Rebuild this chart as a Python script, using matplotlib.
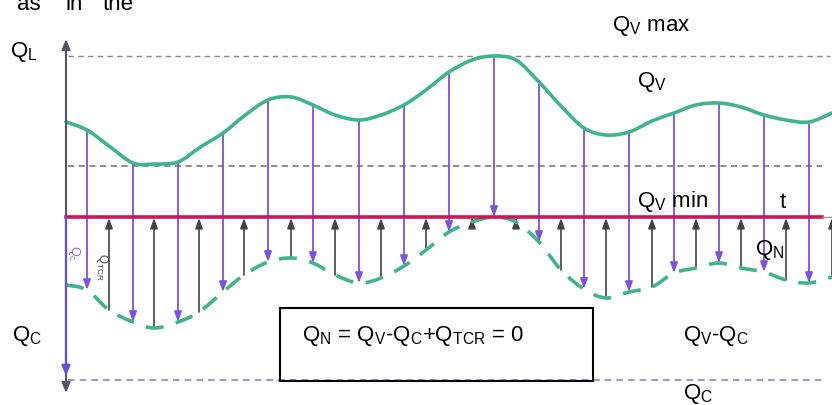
import matplotlib
matplotlib.use("Agg")
import matplotlib.pyplot as plt
from matplotlib.patches import Rectangle, PathPatch
from matplotlib.path import Path

plt.rcParams['font.family'] = ['Liberation Sans', 'DejaVu Sans']
plt.rcParams['mathtext.fontset'] = 'custom'
plt.rcParams['mathtext.rm'] = 'Liberation Sans'
plt.rcParams['mathtext.it'] = 'Liberation Sans'

# time samples (axis origin at 0); odd index -> Qc arrow, even index -> Qtcr arrow
t = [0, 21, 43, 67, 88, 112, 133, 157, 178, 202, 225, 247, 269, 293, 315, 338,
     360, 383, 406, 428, 450, 473, 495, 518, 540, 563, 586, 608, 630, 653, 675,
     698, 720, 743, 766]
# Qv curve (solid)
qv = [95, 87, 71, 54, 53, 55, 69, 84, 101, 117, 120, 112, 102, 97, 102, 112,
      127, 145, 157, 161, 157, 135, 111, 89, 82, 85, 96, 104, 112, 114, 110,
      102, 97, 95, 104]
# Qv - Qc curve (dashed)
qvqc = [-68, -73, -93, -105, -111, -105, -95, -75, -58, -45, -41, -46, -58, -66,
        -61, -49, -33, -15, -5, 0, -5, -25, -53, -72, -81, -75, -70, -56, -51,
        -46, -51, -55, -63, -66, -60]
qv_max = 161
qv_min = 51
qc_level = -163

green = '#3fb58c'
purple = '#7a52e6'
dark = '#444444'


def smooth_path(xs, ys):
    # cubic bezier through the points (catmull-rom tangents)
    verts = [(xs[0], ys[0])]
    codes = [Path.MOVETO]
    n = len(xs)
    for i in range(n - 1):
        x0, y0 = (xs[i - 1], ys[i - 1]) if i > 0 else (xs[i], ys[i])
        x1, y1 = xs[i], ys[i]
        x2, y2 = xs[i + 1], ys[i + 1]
        x3, y3 = (xs[i + 2], ys[i + 2]) if i + 2 < n else (x2, y2)
        verts += [(x1 + (x2 - x0) / 6, y1 + (y2 - y0) / 6),
                  (x2 - (x3 - x1) / 6, y2 - (y3 - y1) / 6),
                  (x2, y2)]
        codes += [Path.CURVE4] * 3
    return Path(verts, codes)


fig = plt.figure(figsize=(8.32, 4.05), dpi=100)
ax = fig.add_axes([0, 0, 1, 1])
ax.set_xlim(-66, 766)
ax.set_ylim(-188, 217)
ax.axis('off')

# reference levels
ax.plot([2, 764], [qv_max, qv_max], color='#8a8a8a', lw=1.0, ls=(0, (4, 3)))
ax.plot([2, 756], [qv_min, qv_min], color='#6f6f6f', lw=1.1, ls=(0, (4, 3)))
ax.plot([2, 760], [qc_level, qc_level], color='#8c80e0', lw=1.2, ls=(0, (4, 3)))

# arrows
for i in range(1, len(t)):
    if i % 2 == 1:
        ax.annotate('', xy=(t[i], qvqc[i]), xytext=(t[i], qv[i]),
                    arrowprops=dict(arrowstyle='-|>,head_length=0.6,head_width=0.22',
                                    color=purple, lw=1.3, shrinkA=0, shrinkB=0,
                                    mutation_scale=10))
    else:
        ax.annotate('', xy=(t[i], -1), xytext=(t[i], qvqc[i]),
                    arrowprops=dict(arrowstyle='-|>,head_length=0.6,head_width=0.22',
                                    color=dark, lw=1.2, shrinkA=0, shrinkB=0,
                                    mutation_scale=10))

# curves
ax.add_patch(PathPatch(smooth_path(t, qv), fill=False, ec=green, lw=2.6,
                       capstyle='round', zorder=3))
ax.add_patch(PathPatch(smooth_path(t, qvqc), fill=False, ec=green, lw=2.6,
                       ls=(0, (5, 3.5)), zorder=3))

# zero line
ax.plot([0, 756], [0, 0], color='#cc1655', lw=2.6, zorder=4)
ax.plot([756, 766], [0, 0], color='#999999', lw=1.0, zorder=4)

# vertical axis
ax.annotate('', xy=(0, 178), xytext=(0, -176),
            arrowprops=dict(arrowstyle='<|-|>,head_length=0.6,head_width=0.25',
                            color='#555566', lw=1.5, shrinkA=0, shrinkB=0,
                            mutation_scale=10))
ax.annotate('', xy=(0, -159), xytext=(0, 0),
            arrowprops=dict(arrowstyle='-|>,head_length=0.6,head_width=0.25',
                            color='#6a50d8', lw=1.6, shrinkA=0, shrinkB=0,
                            mutation_scale=10), zorder=5)

# box with equation
ax.add_patch(Rectangle((214, -164), 313, 73, fill=False, ec='black', lw=1.5, zorder=6))
ax.text(236, -119, r'Q$_\mathrm{N}$ = Q$_\mathrm{V}$-Q$_\mathrm{C}$+Q$_\mathrm{TCR}$ = 0',
        fontsize=16, va='center', ha='left', zorder=7)

fs = 16
ax.text(-56, 165, r'Q$_\mathrm{L}$', fontsize=fs, va='center')
ax.text(-54, -119, r'Q$_\mathrm{C}$', fontsize=fs, va='center')
ax.text(546, 191, r'Q$_\mathrm{V}$ max', fontsize=fs, va='center')
ax.text(571, 135, r'Q$_\mathrm{V}$', fontsize=fs, va='center')
ax.text(571, 15, r'Q$_\mathrm{V}$ min', fontsize=fs, va='center')
ax.text(714, 15, 't', fontsize=fs, va='center')
ax.text(689, -33, r'Q$_\mathrm{N}$', fontsize=fs, va='center')
ax.text(617, -119, r'Q$_\mathrm{V}$-Q$_\mathrm{C}$', fontsize=fs, va='center')
ax.text(617, -177, r'Q$_\mathrm{C}$', fontsize=fs, va='center')

# clipped caption fragment at the top
ax.text(-49, 207, 'as', fontsize=fs, va='baseline')
ax.text(-1, 207, 'in', fontsize=fs, va='baseline')
ax.text(37, 207, 'the', fontsize=fs, va='baseline')

# small rotated labels
ax.text(8, -36, r'Q$_\mathrm{c}$', fontsize=9, color='#8a6ae8', rotation=-90,
        ha='center', va='center')
ax.text(36, -50, r'Q$_\mathrm{TCR}$', fontsize=8.5, color=dark, rotation=-90,
        ha='center', va='center')

fig.savefig('out.png', dpi=100)
